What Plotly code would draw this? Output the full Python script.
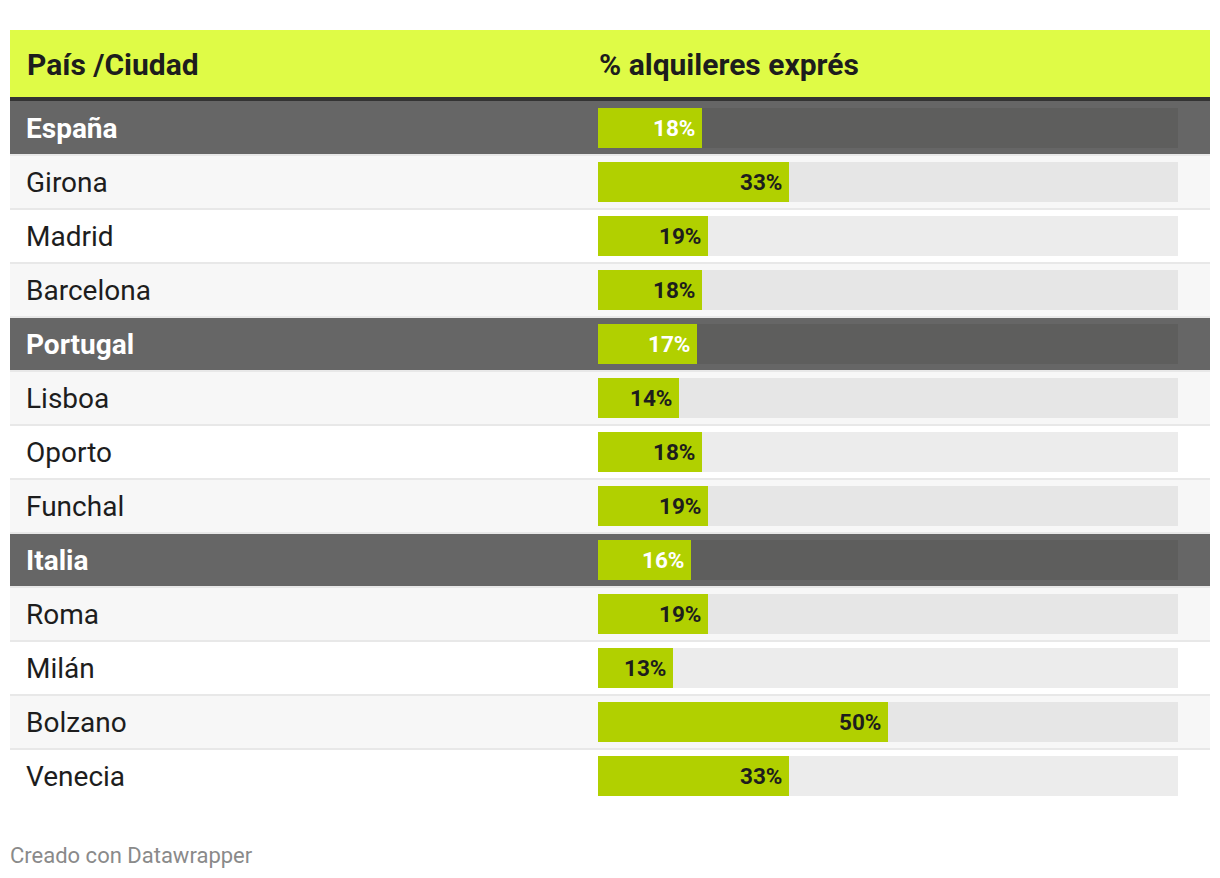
import plotly.graph_objects as go

# ---- data ----
labels = ["España", "Girona", "Madrid", "Barcelona",
          "Portugal", "Lisboa", "Oporto", "Funchal",
          "Italia", "Roma", "Milán", "Bolzano", "Venecia"]
values = [18, 33, 19, 18, 17, 14, 18, 19, 16, 19, 13, 50, 33]
is_group = [True, False, False, False, True, False, False, False,
            True, False, False, False, False]
header_labels = ["País /Ciudad", "% alquileres exprés"]
footer_text = "Creado con Datawrapper"

# ---- geometry / style ----
W, H = 1220, 878
def px(x):
    return x / W
def py(y):
    return 1 - y / H

FONT = "Roboto"
BAR_GREEN = "#b1d000"
HEADER_YELLOW = "#dffb46"
GROUP_BG = "#666666"
STRIPE_BG = "#f7f7f7"

idx = list(range(len(labels)))
row_bg = []
track_col = []
for i, g in enumerate(is_group):
    if g:
        row_bg.append(GROUP_BG)
        track_col.append("#5e5e5d")
    elif i % 2 == 1:
        row_bg.append(STRIPE_BG)
        track_col.append("#e6e6e6")
    else:
        row_bg.append("#ffffff")
        track_col.append("#ececec")

bar_w = 40 / 54

fig = go.Figure()
fig.add_trace(go.Bar(
    x=[100] * len(idx), y=idx, orientation="h", width=bar_w,
    marker=dict(color=track_col, line=dict(width=0)),
    hoverinfo="skip", showlegend=False,
))
fig.add_trace(go.Bar(
    x=values, y=idx, orientation="h", width=bar_w,
    marker=dict(color=BAR_GREEN, line=dict(width=0)),
    hovertemplate="%{x}%<extra></extra>", showlegend=False,
))

shapes = []
# header band
shapes.append(dict(type="rect", xref="paper", yref="paper",
                   x0=px(10), x1=px(1210), y0=py(97), y1=py(30),
                   fillcolor=HEADER_YELLOW, line=dict(width=0), layer="below"))
shapes.append(dict(type="rect", xref="paper", yref="paper",
                   x0=px(10), x1=px(1210), y0=py(101), y1=py(97),
                   fillcolor="#333333", line=dict(width=0), layer="below"))
# row backgrounds
for i in idx:
    shapes.append(dict(type="rect", xref="paper", yref="y",
                       x0=px(10), x1=px(1210), y0=i - 0.5, y1=i + 0.5,
                       fillcolor=row_bg[i], line=dict(width=0), layer="below"))
# separators
for i in idx[:-1]:
    shapes.append(dict(type="line", xref="paper", yref="y",
                       x0=px(10), x1=px(1210), y0=i + 0.5, y1=i + 0.5,
                       line=dict(color="#e8e8e8", width=2), layer="below"))

annotations = []
annotations.append(dict(text="<b>%s</b>" % header_labels[0], xref="paper", yref="paper",
                        x=px(25), y=py(64), xanchor="left", yanchor="middle",
                        showarrow=False, font=dict(family=FONT, size=30, color="#1d1d1d")))
annotations.append(dict(text="<b>%s</b>" % header_labels[1], xref="paper", yref="paper",
                        x=px(597), y=py(64), xanchor="left", yanchor="middle",
                        showarrow=False, font=dict(family=FONT, size=30, color="#1d1d1d")))
for i in idx:
    g = is_group[i]
    txt = "<b>%s</b>" % labels[i] if g else labels[i]
    annotations.append(dict(text=txt, xref="paper", yref="y", x=px(24), y=i,
                            xanchor="left", yanchor="middle", showarrow=False,
                            font=dict(family=FONT, size=28,
                                      color="#ffffff" if g else "#1d1d1d")))
    annotations.append(dict(text="<b>%d%%</b>" % values[i], xref="x", yref="y",
                            x=values[i], y=i, xanchor="right", yanchor="middle",
                            xshift=-5, showarrow=False,
                            font=dict(family=FONT, size=22.5,
                                      color="#ffffff" if g else "#1d1d1d")))
annotations.append(dict(text=footer_text, xref="paper", yref="paper",
                        x=px(8), y=py(855), xanchor="left", yanchor="middle",
                        showarrow=False, font=dict(family=FONT, size=22, color="#8a8a8a")))

fig.update_layout(
    width=W, height=H,
    margin=dict(l=0, r=0, t=0, b=0),
    paper_bgcolor="#ffffff", plot_bgcolor="rgba(0,0,0,0)",
    barmode="overlay", bargap=0,
    xaxis=dict(domain=[px(598), px(1178)], range=[0, 100], visible=False, fixedrange=True),
    yaxis=dict(domain=[py(803), py(101)], range=[len(labels) - 0.5, -0.5],
               visible=False, fixedrange=True),
    shapes=shapes, annotations=annotations,
    showlegend=False,
)

fig.write_html("out.html")
